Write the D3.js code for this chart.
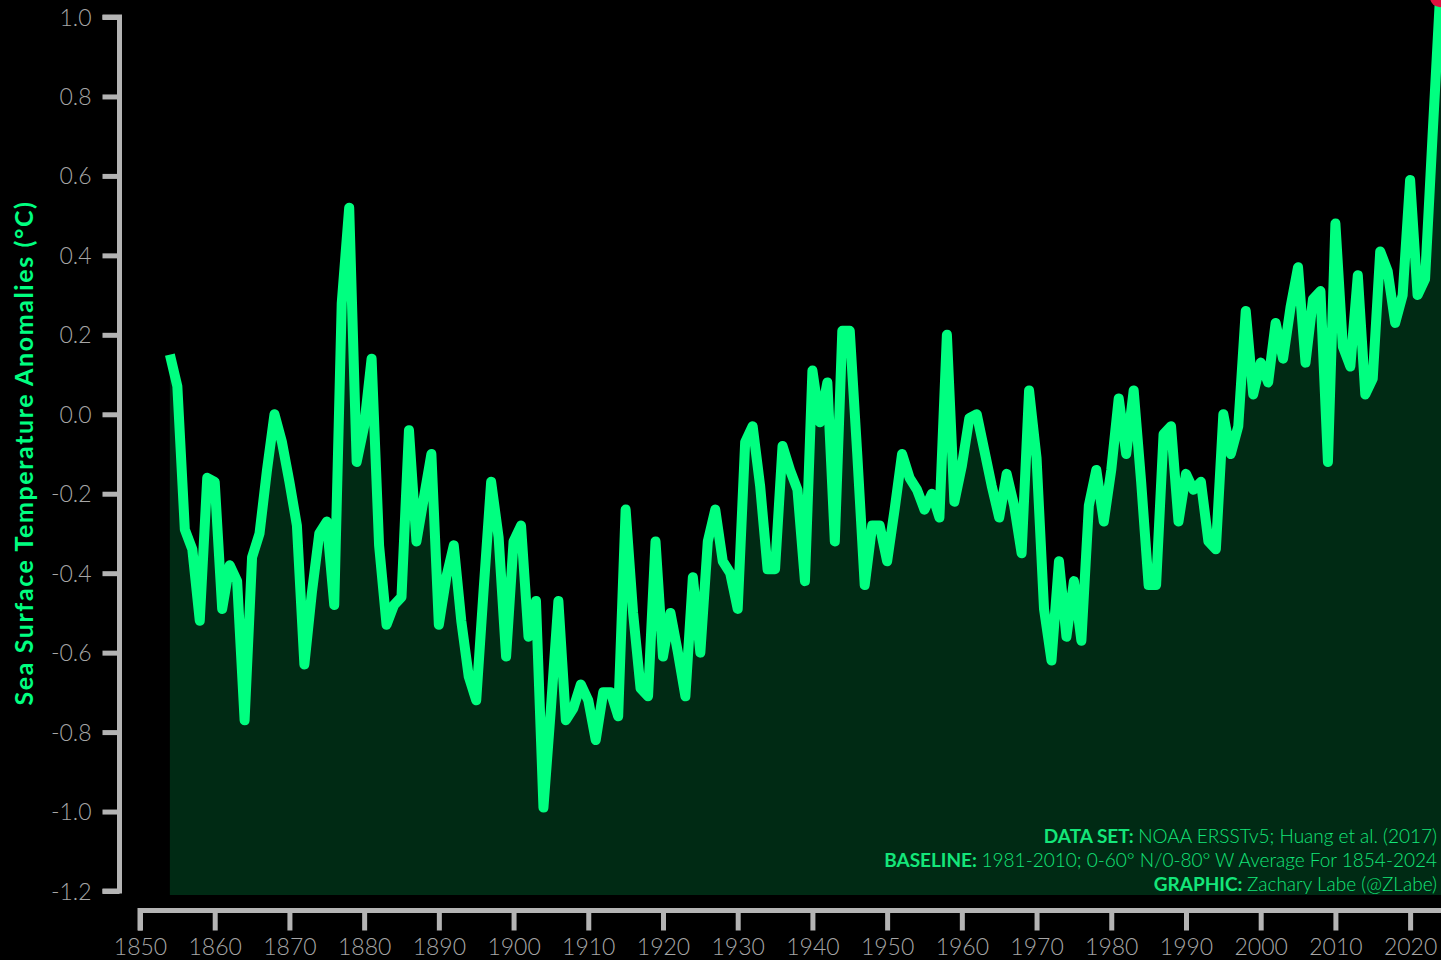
<!DOCTYPE html>
<html>
<head>
<meta charset="utf-8">
<script src="https://cdn.jsdelivr.net/npm/d3@7"></script>
<style>
  html, body { margin: 0; padding: 0; background: #000; overflow: hidden; }
  svg { display: block; }
</style>
</head>
<body>
<svg id="chart" width="1441" height="960"></svg>
<script>
// ---- data ----
const firstYear = 1854;
const anomalies = [
  0.15, 0.07, -0.29, -0.34, -0.52, -0.16, -0.17, -0.49, -0.38, -0.42,   // 1854-1863
  -0.77, -0.36, -0.30, -0.14, 0.00, -0.07, -0.17, -0.28, -0.63, -0.45,  // 1864-1873
  -0.30, -0.27, -0.48, 0.28, 0.52, -0.12, -0.03, 0.14, -0.33, -0.53,    // 1874-1883
  -0.48, -0.46, -0.04, -0.32, -0.21, -0.10, -0.53, -0.41, -0.33, -0.52, // 1884-1893
  -0.66, -0.72, -0.44, -0.17, -0.31, -0.61, -0.32, -0.28, -0.56, -0.47, // 1894-1903
  -0.99, -0.74, -0.47, -0.77, -0.74, -0.68, -0.72, -0.82, -0.70, -0.70, // 1904-1913
  -0.76, -0.24, -0.50, -0.69, -0.71, -0.32, -0.61, -0.50, -0.60, -0.71, // 1914-1923
  -0.41, -0.60, -0.32, -0.24, -0.37, -0.40, -0.49, -0.07, -0.03, -0.18, // 1924-1933
  -0.39, -0.39, -0.08, -0.14, -0.19, -0.42, 0.11, -0.02, 0.08, -0.32,   // 1934-1943
  0.21, 0.21, -0.10, -0.43, -0.28, -0.28, -0.37, -0.24, -0.10, -0.16,   // 1944-1953
  -0.19, -0.24, -0.20, -0.26, 0.20, -0.22, -0.13, -0.01, 0.00, -0.09,   // 1954-1963
  -0.18, -0.26, -0.15, -0.23, -0.35, 0.06, -0.11, -0.49, -0.62, -0.37,  // 1964-1973
  -0.56, -0.42, -0.57, -0.23, -0.14, -0.27, -0.14, 0.04, -0.10, 0.06,   // 1974-1983
  -0.17, -0.43, -0.43, -0.05, -0.03, -0.27, -0.15, -0.19, -0.17, -0.32, // 1984-1993
  -0.34, 0.00, -0.10, -0.03, 0.26, 0.05, 0.13, 0.08, 0.23, 0.14,        // 1994-2003
  0.27, 0.37, 0.13, 0.29, 0.31, -0.12, 0.48, 0.17, 0.12, 0.35,          // 2004-2013
  0.05, 0.09, 0.41, 0.36, 0.23, 0.30, 0.59, 0.30, 0.34, 0.70,           // 2014-2023
  1.05                                                                   // 2024
];
const years = anomalies.map((v, i) => firstYear + i);
const yTicks = [1.0, 0.8, 0.6, 0.4, 0.2, 0.0, -0.2, -0.4, -0.6, -0.8, -1.0, -1.2];
const xTicks = [1850, 1860, 1870, 1880, 1890, 1900, 1910, 1920, 1930, 1940, 1950, 1960, 1970, 1980, 1990, 2000, 2010, 2020];
const yLabel = "Sea Surface Temperature Anomalies (°C)";
const credits = [
  ["DATA SET: ", "NOAA ERSSTv5; Huang et al. (2017)"],
  ["BASELINE: ", "1981-2010; 0-60° N/0-80° W Average For 1854-2024"],
  ["GRAPHIC: ", "Zachary Labe (@ZLabe)"]
];

// ---- drawing ----
const GREEN = "#00ff80";
const AXIS = "#b4b4b4";
const TICKTXT = "#a6a6a6";
const FONT = "Lato, 'DejaVu Sans', sans-serif";

const svg = d3.select("#chart");
svg.append("rect").attr("width", 1441).attr("height", 960).attr("fill", "#000");

const x = d3.scaleLinear().domain([1850, 2024]).range([140, 1440]);
const y = d3.scaleLinear().domain([-1.2, 1.0]).range([891, 17]);

const data = years.map((yr, i) => ({ yr, v: anomalies[i] }));

// area fill
const area = d3.area()
  .x(d => x(d.yr))
  .y0(y(-1.21))
  .y1(d => y(d.v));
svg.append("path")
  .datum(data)
  .attr("d", area)
  .attr("fill", "#002a14");

// fill extends to right edge
svg.append("rect")
  .attr("x", x(2024))
  .attr("y", y(1.05))
  .attr("width", 2)
  .attr("height", y(-1.21) - y(1.05))
  .attr("fill", "#002a14");

// credits
const cred = svg.append("g")
  .attr("font-family", FONT)
  .attr("font-size", 19)
  .attr("fill", "#14e67a")
  .attr("text-anchor", "end");
credits.forEach((c, i) => {
  const t = cred.append("text").attr("x", 1437).attr("y", 843 + i * 24);
  t.append("tspan").attr("font-weight", 700).text(c[0]);
  t.append("tspan").attr("font-weight", 300).text(c[1]);
});

// line
const line = d3.line().x(d => x(d.yr)).y(d => y(d.v));
svg.append("path")
  .datum(data)
  .attr("d", line)
  .attr("fill", "none")
  .attr("stroke", GREEN)
  .attr("stroke-width", 10)
  .attr("stroke-linejoin", "round")
  .attr("stroke-linecap", "butt");

// last point marker
const last = data[data.length - 1];
svg.append("circle")
  .attr("cx", x(last.yr))
  .attr("cy", y(last.v))
  .attr("r", 10)
  .attr("fill", "#e0103f");

// y axis
const yAxis = d3.axisLeft(y)
  .tickValues(yTicks)
  .tickFormat(d => d.toFixed(1))
  .tickSize(17)
  .tickPadding(11);
const gy = svg.append("g").attr("transform", "translate(119.5,0)").call(yAxis);
gy.select(".domain").attr("stroke", AXIS).attr("stroke-width", 5)
  .attr("d", `M-17,${y(1.0)}H0V${y(-1.2)}H-17`);
gy.selectAll(".tick line").attr("stroke", AXIS).attr("stroke-width", 5);
gy.selectAll(".tick text")
  .attr("fill", TICKTXT)
  .attr("font-family", FONT)
  .attr("font-weight", 300)
  .attr("font-size", 23)
  .attr("dy", "0.35em");

// x axis
const xAxis = d3.axisBottom(x)
  .tickValues(xTicks)
  .tickFormat(d3.format("d"))
  .tickSize(20)
  .tickSizeOuter(0);
const gx = svg.append("g").attr("transform", "translate(0,910.5)").call(xAxis);
gx.select(".domain").attr("stroke", AXIS).attr("stroke-width", 5)
  .attr("d", `M${x(1850)},20V0H1441`);
gx.selectAll(".tick line").attr("stroke", AXIS).attr("stroke-width", 5);
gx.selectAll(".tick text")
  .attr("fill", TICKTXT)
  .attr("font-family", FONT)
  .attr("font-weight", 300)
  .attr("font-size", 23)
  .attr("y", 44)
  .attr("dy", "0");

// y label
svg.append("text")
  .attr("transform", `translate(33,${(y(1.0) + y(-1.2)) / 2 - 1}) rotate(-90)`)
  .attr("text-anchor", "middle")
  .attr("font-family", FONT)
  .attr("font-weight", 700)
  .attr("font-size", 25)
  .attr("letter-spacing", 1.6)
  .attr("fill", GREEN)
  .text(yLabel);
</script>
</body>
</html>
